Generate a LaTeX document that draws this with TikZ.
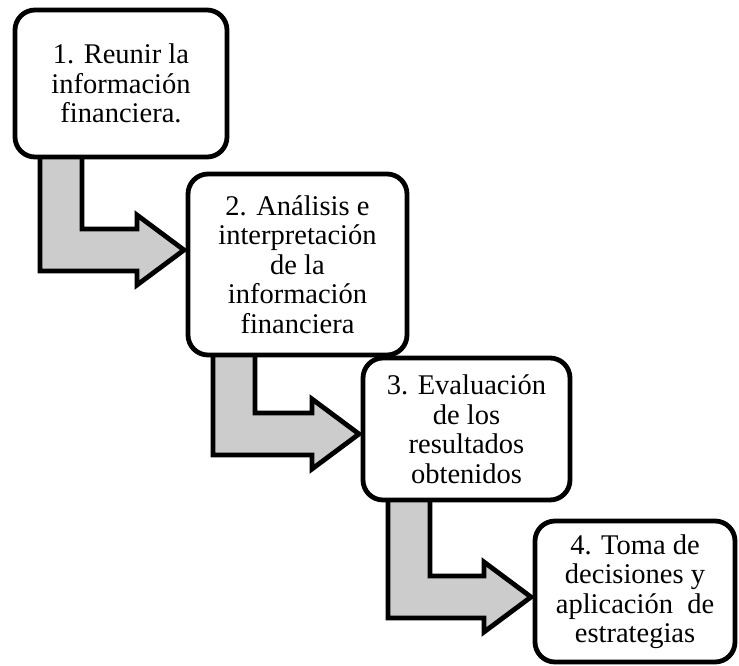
\documentclass[tikz,border=0pt]{standalone}
\usepackage{fontspec}
\setmainfont{Liberation Serif}
\usetikzlibrary{calc,backgrounds}
\definecolor{stepgray}{RGB}{204,204,204}

\begin{document}
\begin{tikzpicture}[
	x=1pt, y=-1pt,
	stepbox/.style={ draw, line width=4.8pt, rounded corners=20pt, fill=white, align=center, inner sep=0pt, outer sep=0pt, font=\fontsize{28.5}{29.5}\selectfont },
	stepflow/.style={ draw, line width=4.8pt, fill=stepgray, line join=miter }
]
\useasboundingbox (0,0) rectangle (739,665);

\node at (121,83.5) (s1) [stepbox, minimum width=212pt, minimum height=147pt] {1. Reunir la\\información\\financiera.};
\node at (297.5,264.5) (s2) [stepbox, minimum width=219pt, minimum height=181pt] {2. Análisis e\\interpretación\\de la\\información\\financiera};
\node at (466.5,429) (s3) [stepbox, minimum width=207pt, minimum height=142pt] {3. Evaluación\\de los\\resultados\\obtenidos};
\node at (635,591.5) (s4) [stepbox, minimum width=200pt, minimum height=141pt] {4. Toma de\\decisiones y\\aplicación\ \ de\\estrategias};

\begin{scope}[on background layer]
\filldraw[stepflow] let \p1=(s1.south west), \p2=(s2.north west) in
	(\x1+67pt,\y1+3pt) -- (\x1+67pt,\y2-55pt) -- (\x2-51pt,\y2-55pt) -- (\x2-51pt,\y2-41pt) -- (\x2-4pt,\y2-76pt)
	-- (\x2-51pt,\y2-111pt) -- (\x2-51pt,\y2-97pt) -- (\x1+25pt,\y2-97pt) -- (\x1+25pt,\y1+3pt);
\filldraw[stepflow] let \p1=(s2.south west), \p2=(s3.north west) in
	(\x1+67pt,\y1+3pt) -- (\x1+67pt,\y2-55pt) -- (\x2-51pt,\y2-55pt) -- (\x2-51pt,\y2-41pt) -- (\x2-4pt,\y2-76pt)
	-- (\x2-51pt,\y2-111pt) -- (\x2-51pt,\y2-97pt) -- (\x1+25pt,\y2-97pt) -- (\x1+25pt,\y1+3pt);
\filldraw[stepflow] let \p1=(s3.south west), \p2=(s4.north west) in
	(\x1+67pt,\y1+3pt) -- (\x1+67pt,\y2-55pt) -- (\x2-51pt,\y2-55pt) -- (\x2-51pt,\y2-41pt) -- (\x2-4pt,\y2-76pt)
	-- (\x2-51pt,\y2-111pt) -- (\x2-51pt,\y2-97pt) -- (\x1+25pt,\y2-97pt) -- (\x1+25pt,\y1+3pt);
\end{scope}

\end{tikzpicture}
\end{document}
